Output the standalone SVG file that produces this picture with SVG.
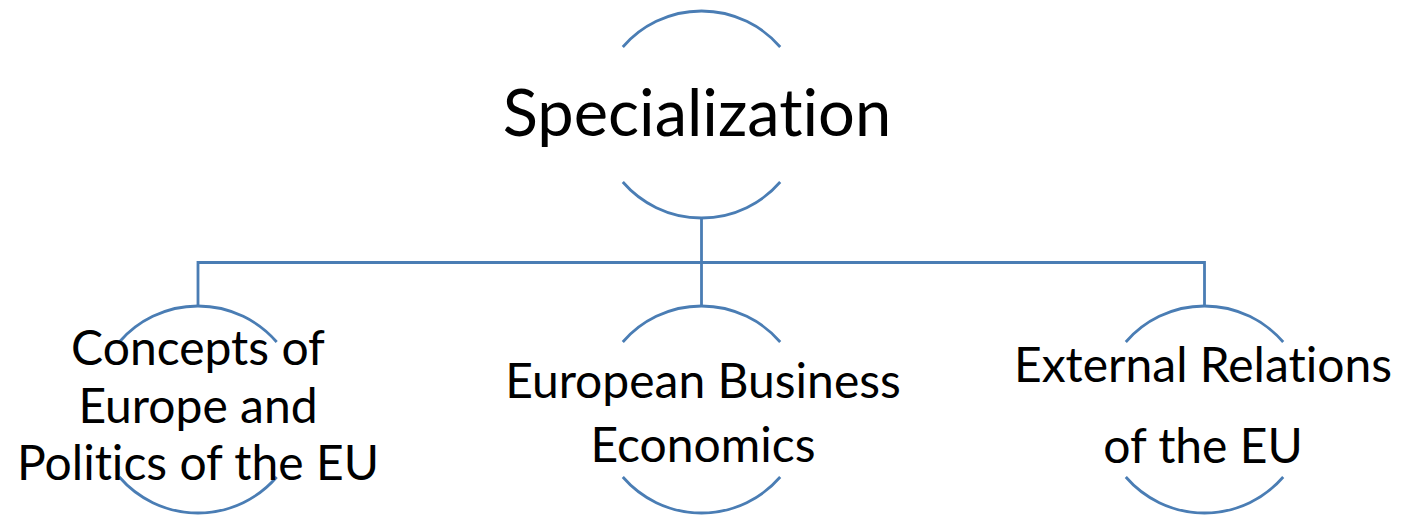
<svg xmlns="http://www.w3.org/2000/svg" width="1408" height="516" viewBox="0 0 1408 516">
<style>
.arc{fill:none;stroke:#4a7db4;stroke-width:2.8}
.con{fill:none;stroke:#4a7db4;stroke-width:2.8}
.t{font-family:Lato,"Open Sans",sans-serif;fill:#000;text-anchor:middle;font-variant-ligatures:none;font-feature-settings:"liga" 0}
.big{font-size:65px}
.sm{font-size:48px}
</style>
<rect width="1408" height="516" fill="#fff"/>
<g id="connectors">
<path class="con" d="M701.5 219 V306 M198 306 V262.5 H1204.5 V306"/>
</g>
<g id="node-specialization">
<path class="arc" d="M622.8 47 A104 104 0 0 1 780.2 47 M622.8 182 A104 104 0 0 0 780.2 182"/>
<text class="t big" x="697" y="136">Specialization</text>
</g>
<g id="node-concepts">
<path class="arc" d="M119.3 342 A104 104 0 0 1 276.7 342 M119.3 477 A104 104 0 0 0 276.7 477"/>
<text class="t sm" x="198" y="365">Concepts of</text>
<text class="t sm" x="198" y="423">Europe and</text>
<text class="t sm" x="198" y="480">Politics of the EU</text>
</g>
<g id="node-business">
<path class="arc" d="M622.8 342 A104 104 0 0 1 780.2 342 M622.8 477 A104 104 0 0 0 780.2 477"/>
<text class="t sm" x="703" y="398">European Business</text>
<text class="t sm" x="703" y="462">Economics</text>
</g>
<g id="node-external">
<path class="arc" d="M1125.8 342 A104 104 0 0 1 1283.2 342 M1125.8 477 A104 104 0 0 0 1283.2 477"/>
<text class="t sm" x="1203" y="382">External Relations</text>
<text class="t sm" x="1203" y="463">of the EU</text>
</g>
</svg>
